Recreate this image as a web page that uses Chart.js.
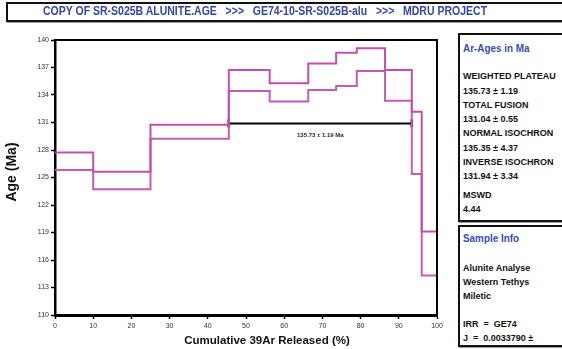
<!DOCTYPE html>
<html>
<head>
<meta charset="utf-8">
<script src="https://cdn.jsdelivr.net/npm/chart.js@4.4.1/dist/chart.umd.min.js"></script>
<style>
  html, body { margin: 0; padding: 0; background: #fff; }
  body { width: 562px; height: 349px; overflow: hidden; position: relative;
         font-family: "Liberation Sans", Arial, sans-serif; }
  #chart { position: absolute; left: 0; top: 0; }
  .box { position: absolute; border: 2px solid #111; box-shadow: 1px 1px 0 #999; background: #fff; }
  #titlebar { left: 6px; top: 2px; width: 580px; height: 16px; }
  #titletext { position: absolute; left: 43px; top: 4px; line-height: 16px; white-space: pre;
               font: bold 12px "Liberation Sans", Arial, sans-serif; color: #3445a8;
               transform: scaleX(0.875); transform-origin: 0 0; }
  #ages { left: 458px; top: 33px; width: 120px; height: 185px; }
  #info { left: 458px; top: 225px; width: 120px; height: 118px; }
  .t { position: absolute; left: 463px; line-height: 10px; white-space: pre;
       font: bold 9px "Liberation Sans", Arial, sans-serif; color: #111; }
  .h { font-size: 11px; line-height: 12px; color: #3a4cb4; transform: scaleX(0.9); transform-origin: 0 0; }
</style>
</head>
<body>
<canvas id="chart" width="450" height="349"></canvas>
<div class="box" id="titlebar"></div>
<div id="titletext">COPY OF SR-S025B ALUNITE.AGE   &gt;&gt;&gt;   GE74-10-SR-S025B-alu   &gt;&gt;&gt;   MDRU PROJECT</div>
<div class="box" id="ages"></div>
<div class="box" id="info"></div>
<div id="panels"></div>
<script>
// Step boundaries (cumulative % 39Ar released) and apparent ages of each heating step
const stepEdges  = [0, 10, 25, 45.5, 56.2, 66.3, 73.6, 79.0, 86.4, 93.4, 96.0, 100];
const stepAges   = [126.77, 124.68, 130.00, 135.59, 134.28, 136.00, 136.80, 137.86, 135.05, 128.78, 116.70];
const stepErrors = [0.95, 0.96, 0.76, 1.15, 1.00, 1.45, 1.82, 1.24, 1.67, 3.40, 2.40];

// Plateau: steps 4..9 (0-based 3..8)
const plateauSteps = [3, 8];
const plateauAge = 135.73;
const plateauError = 1.19;
const plateauBarLevel = 130.9;

// Axis ticks
const xTicks = [0, 10, 20, 30, 40, 50, 60, 70, 80, 90, 100];
const yTicks = [110, 113, 116, 119, 122, 125, 128, 131, 134, 137, 140];

// Summary panel
const resultNames  = ['WEIGHTED PLATEAU', 'TOTAL FUSION', 'NORMAL ISOCHRON', 'INVERSE ISOCHRON'];
const resultAges   = [plateauAge, 131.04, 135.35, 131.94];
const resultErrors = [plateauError, 0.55, 4.37, 3.34];
const mswd = 4.44;
const sampleLines = ['Alunite Analyse', 'Western Tethys', 'Miletic'];
const irr = 'GE74';
const jValue = '0.0033790';

// ---- side panels ----
const panels = document.getElementById('panels');
function addText(txt, top, cls) {
  const d = document.createElement('div');
  d.className = 't' + (cls ? ' ' + cls : '');
  d.style.top = top + 'px';
  d.textContent = txt;
  panels.appendChild(d);
}
addText('Ar-Ages in Ma', 42, 'h');
let rowY = 71;
resultNames.forEach((n, i) => {
  addText(n, rowY, '');
  addText(resultAges[i].toFixed(2) + ' \u00b1 ' + resultErrors[i].toFixed(2), rowY + 14.5, '');
  rowY += 28.5;
});
addText('MSWD', 190, '');
addText(mswd.toFixed(2), 204, '');
addText('Sample Info', 232, 'h');
sampleLines.forEach((s, i) => addText(s, 263 + i * 14, ''));
addText('IRR  =  ' + irr, 319, '');
addText('J  =  ' + jValue + ' \u00b1', 333, '');

// ---- spectrum ----
function stepLine(sign) {
  const pts = stepAges.map((a, i) => ({ x: stepEdges[i], y: a + sign * stepErrors[i] }));
  const last = stepAges.length - 1;
  pts.push({ x: stepEdges[last + 1], y: stepAges[last] + sign * stepErrors[last] });
  return pts;
}

const plateauData = [
  { x: stepEdges[plateauSteps[0]], y: plateauBarLevel },
  { x: stepEdges[plateauSteps[1] + 1], y: plateauBarLevel }
];

const extras = {
  id: 'extras',
  afterDraw(chart) {
    const { ctx, chartArea: a, scales: { x, y } } = chart;
    ctx.save();
    // top and right frame
    ctx.strokeStyle = '#000';
    ctx.lineWidth = 2;
    ctx.beginPath();
    ctx.moveTo(a.left, a.top);
    ctx.lineTo(a.right, a.top);
    ctx.lineTo(a.right, a.bottom);
    ctx.stroke();
    // plateau label
    ctx.fillStyle = '#222';
    ctx.font = 'bold 6px "Liberation Sans", Arial, sans-serif';
    ctx.textAlign = 'center';
    ctx.textBaseline = 'middle';
    const mx = (x.getPixelForValue(plateauData[0].x) + x.getPixelForValue(plateauData[1].x)) / 2;
    ctx.fillText(plateauAge.toFixed(2) + ' \u00b1 ' + plateauError.toFixed(2) + ' Ma', mx, y.getPixelForValue(plateauBarLevel) + 12);
    // axis titles
    ctx.fillStyle = '#111';
    ctx.font = 'bold 11.5px "Liberation Sans", Arial, sans-serif';
    ctx.fillText('Cumulative 39Ar Released (%)', 267, 341);
    ctx.translate(12, 172);
    ctx.rotate(-Math.PI / 2);
    ctx.font = 'bold 14px "Liberation Sans", Arial, sans-serif';
    ctx.fillText('Age (Ma)', 0, 0);
    ctx.restore();
  }
};

const stepColor = '#c24fac';
new Chart(document.getElementById('chart'), {
  type: 'line',
  data: {
    datasets: [
      { data: stepLine(1), stepped: 'before', borderColor: stepColor, borderWidth: 2, pointRadius: 0, fill: false },
      { data: stepLine(-1), stepped: 'before', borderColor: '#c55cb2', borderWidth: 2, pointRadius: 0, fill: false },
      { data: plateauData, borderColor: '#000', borderWidth: 2, pointStyle: 'line', pointRotation: 90,
        pointRadius: 4, pointBorderWidth: 2.5, pointBorderColor: '#000', pointBackgroundColor: '#000' }
    ]
  },
  options: {
    responsive: false,
    animation: false,
    devicePixelRatio: 1,
    layout: { padding: { left: 0, top: 40, right: 13, bottom: 0 } },
    plugins: { legend: { display: false }, tooltip: { enabled: false } },
    scales: {
      x: {
        type: 'linear', min: 0, max: 100,
        afterFit(s) { s.height = 34; },
        afterBuildTicks(s) { s.ticks = xTicks.map(v => ({ value: v })); },
        ticks: { color: '#333', font: { size: 7, family: '"Liberation Sans", Arial, sans-serif' }, padding: 3, maxRotation: 0 },
        grid: { display: true, drawOnChartArea: false, drawTicks: true, tickLength: 4, tickColor: '#000', tickWidth: 1.5 },
        border: { display: true, color: '#000', width: 3 }
      },
      y: {
        type: 'linear', min: 110, max: 140,
        afterFit(s) { s.width = 55; },
        afterBuildTicks(s) { s.ticks = yTicks.map(v => ({ value: v })); },
        ticks: { color: '#333', font: { size: 7, family: '"Liberation Sans", Arial, sans-serif' }, padding: 2 },
        grid: { display: true, drawOnChartArea: false, drawTicks: true, tickLength: 4, tickColor: '#000', tickWidth: 1.5 },
        border: { display: true, color: '#000', width: 2.5 }
      }
    }
  },
  plugins: [extras]
});
</script>
</body>
</html>
